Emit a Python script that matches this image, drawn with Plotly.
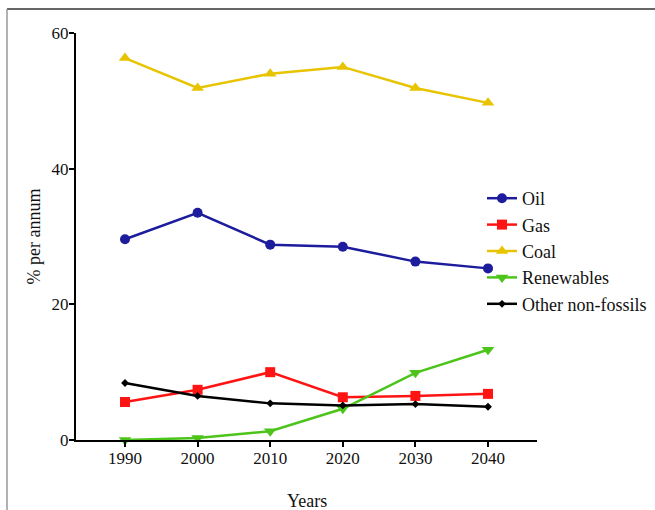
import plotly.graph_objects as go

years = [1990, 2000, 2010, 2020, 2030, 2040]
oil = [29.6, 33.5, 28.8, 28.5, 26.3, 25.3]
gas = [5.6, 7.4, 10.0, 6.3, 6.5, 6.8]
coal = [56.3, 51.9, 54.0, 55.0, 51.9, 49.7]
renewables = [0.0, 0.3, 1.3, 4.6, 9.9, 13.3]
other = [8.4, 6.5, 5.4, 5.1, 5.3, 4.9]

series = [
    ("Oil", oil, "#1c1c9c", "circle", 10),
    ("Gas", gas, "#ff1414", "square", 10),
    ("Coal", coal, "#e8c400", "triangle-up", 11),
    ("Renewables", renewables, "#4cc41a", "triangle-down", 11),
    ("Other non-fossils", other, "#000000", "diamond", 6),
]

font_family = "Liberation Serif, Times New Roman, serif"

# plot area in pixels
W, H = 655, 510
L, R, T, B = 76, 118, 33, 70
pw, ph = W - L - R, H - T - B


def px_x(px):
    return (px - L) / pw


def px_y(py):
    return (H - B - py) / ph


fig = go.Figure()
for name, vals, color, symbol, size in series:
    fig.add_trace(go.Scatter(
        x=years, y=vals, name=name, mode="lines+markers",
        line=dict(color=color, width=2.5),
        marker=dict(symbol=symbol, size=size, color=color),
        cliponaxis=False,
    ))

fig.update_layout(
    width=W, height=H,
    margin=dict(l=L, r=R, t=T, b=B, autoexpand=False),
    paper_bgcolor="white", plot_bgcolor="white",
    font=dict(family=font_family, size=17, color="#111111"),
    showlegend=True,
    legend=dict(
        x=px_x(482), y=px_y(180), xanchor="left", yanchor="top",
        bgcolor="rgba(0,0,0,0)", font=dict(size=18, family=font_family),
        itemwidth=30, tracegroupgap=0,
    ),
    xaxis=dict(
        range=[1983.25, 2046.75], tickvals=years,
        showline=True, linecolor="black", linewidth=2,
        ticks="outside", ticklen=5, tickwidth=1.5, tickcolor="black",
        showgrid=False, zeroline=False, automargin=False,
        tickfont=dict(size=17), ticklabelstandoff=-3,
    ),
    yaxis=dict(
        range=[0, 60], tickvals=[0, 20, 40, 60],
        showline=True, linecolor="black", linewidth=2,
        ticks="outside", ticklen=5, tickwidth=1.5, tickcolor="black",
        showgrid=False, zeroline=False, automargin=False,
        tickfont=dict(size=17), ticklabelstandoff=-3,
    ),
    annotations=[
        dict(text="Years", xref="paper", yref="paper",
             x=0.5, y=px_y(501), xanchor="center", yanchor="middle",
             showarrow=False, font=dict(size=18, family=font_family)),
        dict(text="% per annum", xref="paper", yref="paper",
             x=px_x(33), y=0.5, xanchor="center", yanchor="middle",
             textangle=-90, showarrow=False,
             font=dict(size=18, family=font_family)),
    ],
)

# frame lines along the top and left edges of the figure
fig.add_shape(type="line", xref="paper", yref="paper",
              x0=px_x(7), x1=px_x(660), y0=px_y(9), y1=px_y(9),
              line=dict(color="#333333", width=1.5))
fig.add_shape(type="line", xref="paper", yref="paper",
              x0=px_x(7), x1=px_x(7), y0=px_y(9), y1=px_y(515),
              line=dict(color="#999999", width=1.5))

fig.write_html("out.html")
